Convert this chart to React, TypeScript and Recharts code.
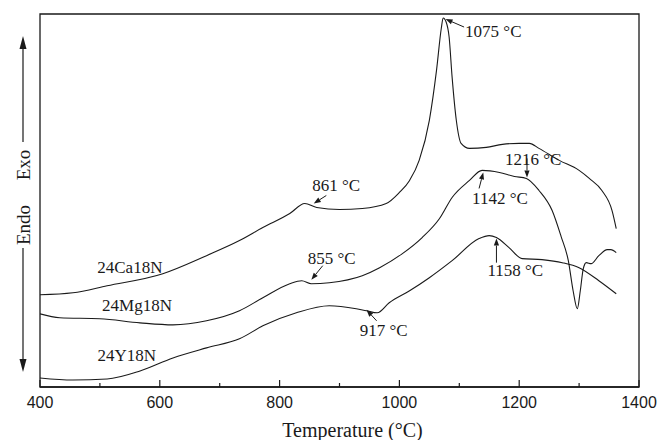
import {
  Line,
  LineChart,
  ReferenceArea,
  ReferenceDot,
  ReferenceLine,
  XAxis,
  YAxis,
} from "recharts";

// DTA traces, temperature (°C) vs heat flow (arbitrary units)
const caTemp = [400, 455, 512, 605, 678, 733, 772, 817, 842, 862, 900, 938, 978, 1000, 1017, 1033, 1050, 1062, 1070, 1073, 1078, 1083, 1088, 1095, 1103, 1117, 1145, 1172, 1200, 1217, 1233, 1267, 1300, 1317, 1338, 1355, 1362];
const caSignal = [92, 94, 101, 113, 131, 146, 159, 173, 183, 179, 177, 178, 183, 194, 206, 226, 266, 316, 358, 368, 364, 349, 309, 266, 243, 238, 239, 242, 243, 243, 238, 226, 216, 208, 196, 176, 158];

const mgTemp = [400, 433, 500, 567, 622, 678, 733, 772, 817, 837, 853, 883, 938, 967, 1005, 1038, 1067, 1088, 1117, 1138, 1167, 1192, 1212, 1233, 1255, 1270, 1282, 1290, 1297, 1302, 1307, 1312, 1320, 1333, 1347, 1353, 1362];
const mgSignal = [73, 69, 68, 64, 62, 66, 76, 89, 103, 106, 103, 104, 111, 119, 133, 149, 168, 189, 206, 216, 214, 210, 208, 196, 176, 150, 126, 96, 78, 96, 118, 124, 123, 131, 137, 137, 134];

const yTemp = [400, 455, 512, 567, 622, 678, 733, 772, 828, 883, 928, 945, 963, 983, 1017, 1050, 1088, 1133, 1150, 1162, 1183, 1205, 1238, 1272, 1300, 1333, 1362];
const ySignal = [9, 7, 8, 16, 29, 39, 48, 61, 74, 81, 78, 76, 74, 84, 96, 109, 126, 148, 151, 149, 139, 128, 127, 124, 119, 106, 93];

const tempTicks = [400, 500, 600, 700, 800, 900, 1000, 1100, 1200, 1300, 1400];

const seriesNames = ["24Ca18N", "24Mg18N", "24Y18N"];
const seriesLabelAt = [[550, 120], [562, 82], [545, 32]];

// peak annotations: text, arrow tail and arrow head (temperature, signal)
const noteText = ["1075 °C", "861 °C", "855 °C", "917 °C", "1142 °C", "1216 °C", "1158 °C"];
const noteTail = [[1108, 359], [878, 191], [872, 121], [962, 66], [1133, 198], [1213, 228], [1162, 124]];
const noteHead = [[1077, 367], [857, 183], [853, 107], [945, 77], [1140, 214], [1213, 209], [1162, 148]];
// text offset from the arrow tail, px
const noteOffset = [[1, 10], [-14, -4], [-15, -2], [-17, 15], [-7, 16], [-22, 7], [-9, 13]];

const toPoints = (t: number[], s: number[]) => t.map((x, i) => ({ t: x, v: s[i] }));
const traces = [toPoints(caTemp, caSignal), toPoints(mgTemp, mgSignal), toPoints(yTemp, ySignal)];

const ink = "#1a1a1a";
const serif = '"Liberation Serif", "Times New Roman", serif';
const sans = '"Liberation Sans", Arial, sans-serif';

const TempTick = (props: any) => {
  const { x, y, payload } = props;
  const major = payload.value % 200 === 0;
  return (
    <g>
      <line x1={x} y1={y} x2={x} y2={y - (major ? 7 : 4)} stroke={ink} strokeWidth={1.2} />
      {major && (
        <text x={x} y={y + 21} textAnchor="middle" fontFamily={sans} fontSize={16} fill={ink}>
          {payload.value}
        </text>
      )}
    </g>
  );
};

const arrowShape = (i: number) => (p: any) => {
  const { x1, y1, x2, y2 } = p;
  const a = Math.atan2(y2 - y1, x2 - x1);
  const len = 7;
  const w = 2.6;
  const bx = x2 - len * Math.cos(a);
  const by = y2 - len * Math.sin(a);
  const pts = `${x2},${y2} ${bx - w * Math.sin(a)},${by + w * Math.cos(a)} ${bx + w * Math.sin(a)},${by - w * Math.cos(a)}`;
  return (
    <g>
      <line x1={x1} y1={y1} x2={bx} y2={by} stroke={ink} strokeWidth={1} />
      <polygon points={pts} fill={ink} />
      <text x={x1 + noteOffset[i][0]} y={y1 + noteOffset[i][1]} fontFamily={serif} fontSize={17} fill={ink}>
        {noteText[i]}
      </text>
    </g>
  );
};

const seriesLabel = (i: number) => (p: any) => (
  <text x={p.cx} y={p.cy} dy="0.35em" textAnchor="middle" fontFamily={serif} fontSize={17} fill={ink}>
    {seriesNames[i]}
  </text>
);

const App = () => {
  return (
    <div style={{ position: "absolute", left: 0, top: 0, width: 659, height: 440, background: "#fff" }}>
      <LineChart width={659} height={440} margin={{ top: 14, right: 20, bottom: 0, left: 40 }}>
        <XAxis
          dataKey="t"
          type="number"
          domain={[400, 1400]}
          ticks={tempTicks}
          height={53}
          tickSize={0}
          tickMargin={0}
          tickLine={false}
          tick={<TempTick />}
          stroke={ink}
          strokeWidth={1.3}
          allowDataOverflow
          label={{
            value: "Temperature (°C)",
            position: "insideBottom",
            offset: 3,
            dx: 13,
            fontSize: 20,
            fontFamily: serif,
            fill: ink,
          }}
        />
        <YAxis type="number" domain={[0, 372]} hide allowDataOverflow />
        <ReferenceArea x1={400} x2={1400} y1={0} y2={372} fill="none" stroke={ink} strokeWidth={1.3} />
        {traces.map((d, i) => (
          <Line
            key={seriesNames[i]}
            data={d}
            dataKey="v"
            type="monotone"
            dot={false}
            stroke={ink}
            strokeWidth={1.1}
            isAnimationActive={false}
          />
        ))}
        {noteText.map((txt, i) => (
          <ReferenceLine
            key={txt}
            segment={[
              { x: noteTail[i][0], y: noteTail[i][1] },
              { x: noteHead[i][0], y: noteHead[i][1] },
            ]}
            shape={arrowShape(i)}
          />
        ))}
        {seriesNames.map((name, i) => (
          <ReferenceDot
            key={name}
            x={seriesLabelAt[i][0]}
            y={seriesLabelAt[i][1]}
            r={2}
            shape={seriesLabel(i)}
          />
        ))}
      </LineChart>
      <svg width={659} height={440} style={{ position: "absolute", left: 0, top: 0, pointerEvents: "none" }}>
        <line x1={23} y1={142} x2={23} y2={46} stroke={ink} strokeWidth={1.2} />
        <polygon points="23,36 19.5,49 26.5,49" fill={ink} />
        <text transform="rotate(-90 23 165)" x={23} y={165} dy="0.35em" textAnchor="middle" fontFamily={serif} fontSize={19} fill={ink}>
          Exo
        </text>
        <text transform="rotate(-90 23 225)" x={23} y={225} dy="0.35em" textAnchor="middle" fontFamily={serif} fontSize={19} fill={ink}>
          Endo
        </text>
        <line x1={23} y1={248} x2={23} y2={362} stroke={ink} strokeWidth={1.2} />
        <polygon points="23,372 19.5,359 26.5,359" fill={ink} />
      </svg>
    </div>
  );
};

export default App;
